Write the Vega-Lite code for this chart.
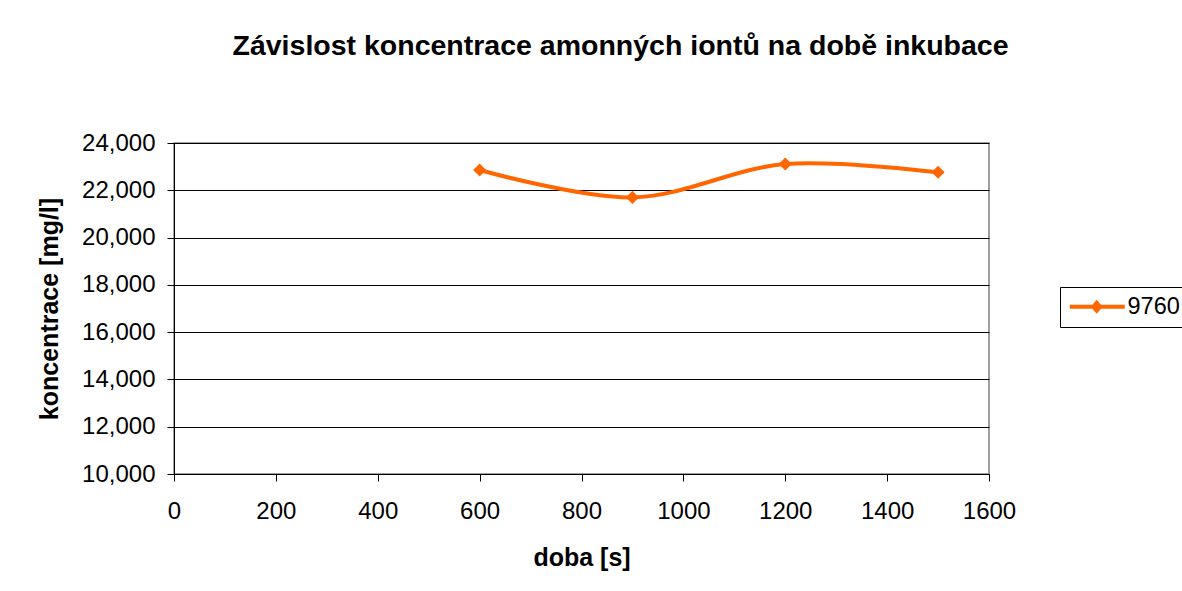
{
  "$schema": "https://vega.github.io/schema/vega-lite/v6.json",
  "autosize": "none",
  "width": 815,
  "height": 331,
  "padding": {"left": 174, "top": 143, "right": 193, "bottom": 117},
  "background": "white",
  "title": {
    "text": "Závislost koncentrace amonných iontů na době inkubace",
    "font": "Liberation Sans",
    "fontSize": 28.5,
    "fontWeight": "bold",
    "color": "black",
    "anchor": "middle",
    "dx": 39,
    "offset": 71
  },
  "config": {
    "font": "Liberation Sans",
    "view": {"stroke": "#808080", "strokeWidth": 1.5},
    "axis": {
      "labelFont": "Liberation Sans",
      "labelFontSize": 24,
      "labelColor": "black",
      "titleFont": "Liberation Sans",
      "titleFontSize": 25,
      "titleFontWeight": "bold",
      "titleColor": "black",
      "domainColor": "black",
      "tickColor": "black",
      "tickSize": 7,
      "gridColor": "black",
      "gridOpacity": 1,
      "gridWidth": 1
    }
  },
  "data": {
    "values": [
      {"doba": 600, "koncentrace": 22860, "serie": "9760"},
      {"doba": 900, "koncentrace": 21700, "serie": "9760"},
      {"doba": 1200, "koncentrace": 23110, "serie": "9760"},
      {"doba": 1500, "koncentrace": 22760, "serie": "9760"}
    ]
  },
  "encoding": {
    "x": {
      "field": "doba",
      "type": "quantitative",
      "scale": {"domain": [0, 1600], "nice": false, "zero": false},
      "axis": {
        "title": "doba [s]",
        "values": [0, 200, 400, 600, 800, 1000, 1200, 1400, 1600],
        "format": "d",
        "grid": false,
        "labelPadding": 18,
        "titlePadding": 22,
        "labelFlush": false
      }
    },
    "y": {
      "field": "koncentrace",
      "type": "quantitative",
      "scale": {"domain": [10000, 24000], "nice": false, "zero": false},
      "axis": {
        "title": "koncentrace [mg/l]",
        "values": [10000, 12000, 14000, 16000, 18000, 20000, 22000, 24000],
        "format": ",.0f",
        "grid": true,
        "labelPadding": 12,
        "titlePadding": 19,
        "labelFlush": false
      }
    }
  },
  "layer": [
    {
      "mark": {"type": "line", "interpolate": "catmull-rom", "strokeWidth": 4},
      "encoding": {
        "color": {
          "field": "serie",
          "type": "nominal",
          "scale": {"range": ["#FF6600"]},
          "legend": {
            "title": null,
            "orient": "none",
            "legendX": 886,
            "legendY": 144,
            "padding": 8,
            "strokeColor": "black",
            "fillColor": "white",
            "labelFont": "Liberation Sans",
            "labelFontSize": 23.5,
            "labelColor": "black",
            "labelOffset": 36,
            "symbolSize": 400,
            "symbolType": "M-1,-0.2L4.5,-0.2L4.5,0.2L-1,0.2Z M1.7,-0.7L2.3,0L1.7,0.7L1.1,0Z",
            "symbolFillColor": "#FF6600",
            "symbolStrokeColor": "#FF6600",
            "symbolStrokeWidth": 0,
            "symbolOpacity": 1
          }
        }
      }
    },
    {
      "mark": {"type": "point", "shape": "diamond", "filled": true, "size": 170, "color": "#FF6600", "opacity": 1}
    }
  ]
}
